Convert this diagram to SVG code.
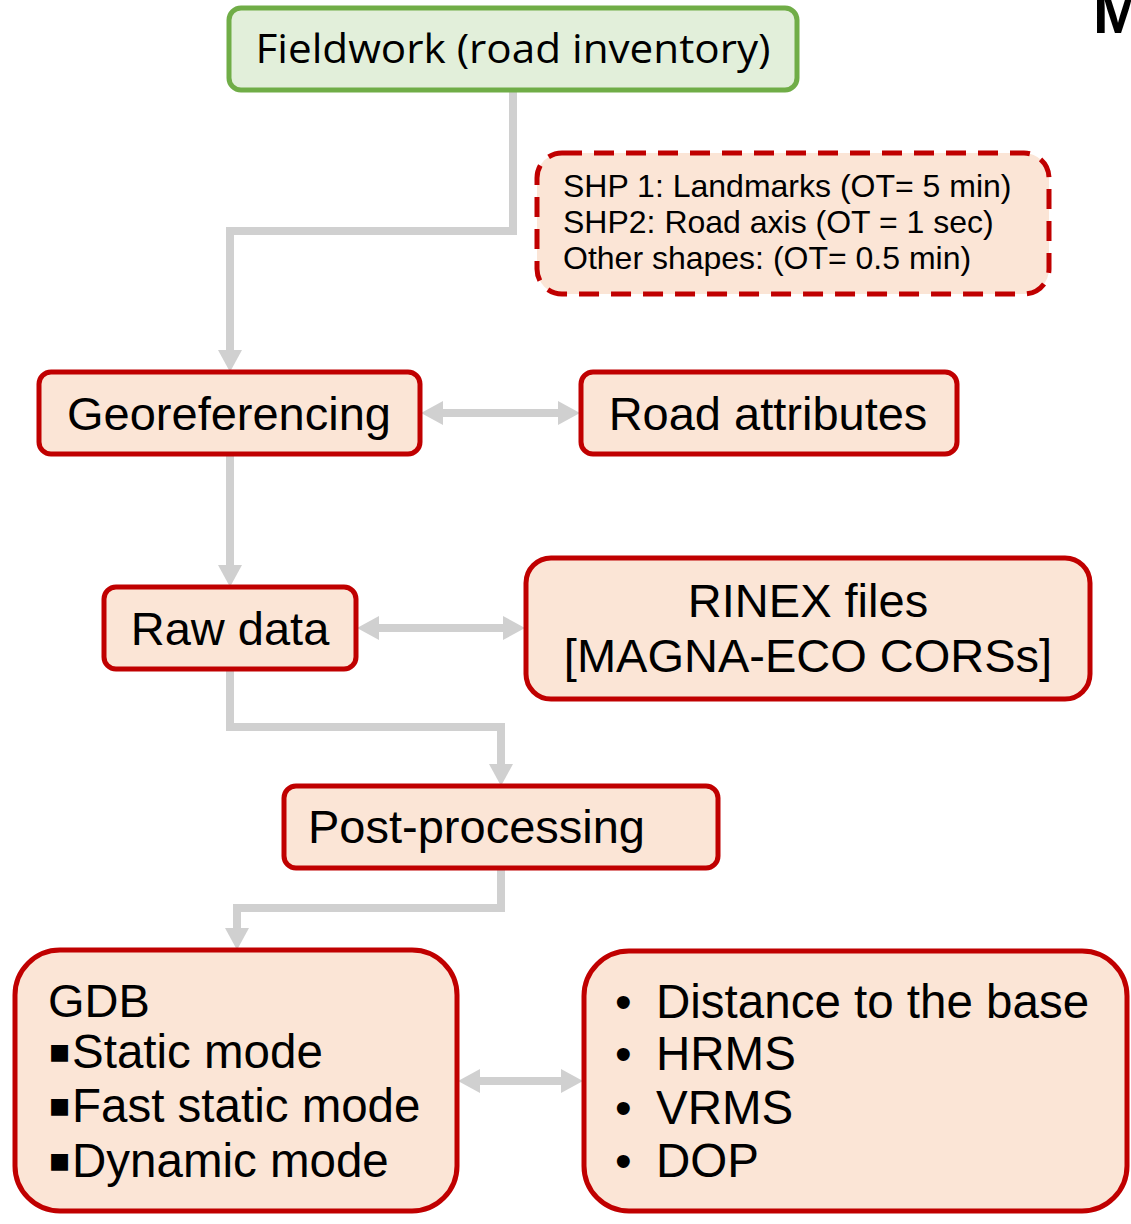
<svg xmlns="http://www.w3.org/2000/svg" width="1131" height="1224" viewBox="0 0 1131 1224">
<style>
.box{fill:#FBE5D6;stroke:#C00000;stroke-width:5}
.t{font-family:"Liberation Sans",Arial,sans-serif;fill:#000}
.big{font-size:47px}
.mid{font-size:47.5px}
.small{font-size:32px}
.sq{font-family:"DejaVu Sans",sans-serif;font-size:34px}
.conn{fill:none;stroke:#D0D0D0;stroke-width:8}
</style>
<defs>
<marker id="ah" markerUnits="userSpaceOnUse" markerWidth="24" markerHeight="24" viewBox="0 0 22 24" refX="0" refY="12" orient="auto-start-reverse">
<path d="M0,0 L22,12 L0,24 z" fill="#D0D0D0"/>
</marker>
</defs>
<text class="t" x="1093" y="33" font-size="60" font-weight="bold">M</text>
<g id="connectors">
<path class="conn" d="M513,90 V231 H230 V350" marker-end="url(#ah)"/>
<path class="conn" d="M443,413 H558" marker-start="url(#ah)" marker-end="url(#ah)"/>
<path class="conn" d="M230,454 V565" marker-end="url(#ah)"/>
<path class="conn" d="M379,628 H503" marker-start="url(#ah)" marker-end="url(#ah)"/>
<path class="conn" d="M230,669 V727 H501 V764" marker-end="url(#ah)"/>
<path class="conn" d="M501,868 V908 H237 V928" marker-end="url(#ah)"/>
<path class="conn" d="M480,1081 H561" marker-start="url(#ah)" marker-end="url(#ah)"/>
</g>
<g id="fieldwork">
<rect x="229" y="8" width="568" height="82" rx="12" fill="#E2EFDA" stroke="#70AD47" stroke-width="5"/>
<text class="t" x="513" y="63" text-anchor="middle" style="font-family:'Open Sans','Noto Sans',sans-serif" font-size="40" textLength="515" lengthAdjust="spacingAndGlyphs">Fieldwork (road inventory)</text>
</g>
<g id="shapes-note">
<rect x="537" y="153" width="512" height="141" rx="25" fill="#FBE5D6" stroke="#C00000" stroke-width="5" stroke-dasharray="20 12"/>
<text class="t small" x="563" y="197">SHP 1: Landmarks (OT= 5 min)</text>
<text class="t small" x="563" y="233">SHP2: Road axis (OT = 1 sec)</text>
<text class="t small" x="563" y="269">Other shapes: (OT= 0.5 min)</text>
</g>
<g id="georeferencing">
<rect class="box" x="39" y="372" width="381" height="82" rx="12"/>
<text class="t big" x="229" y="430" text-anchor="middle">Georeferencing</text>
</g>
<g id="road-attributes">
<rect class="box" x="581" y="372" width="376" height="82" rx="12"/>
<text class="t big" x="768" y="430" text-anchor="middle">Road attributes</text>
</g>
<g id="raw-data">
<rect class="box" x="104" y="587" width="252" height="82" rx="12"/>
<text class="t big" x="230" y="645" text-anchor="middle">Raw data</text>
</g>
<g id="rinex">
<rect class="box" x="526" y="558" width="564" height="141" rx="25"/>
<text class="t big" x="808" y="617" text-anchor="middle">RINEX files</text>
<text class="t big" x="808" y="672" text-anchor="middle">[MAGNA-ECO CORSs]</text>
</g>
<g id="post-processing">
<rect class="box" x="284" y="786" width="434" height="82" rx="12"/>
<text class="t big" x="308" y="843">Post-processing</text>
</g>
<g id="gdb">
<rect class="box" x="15" y="950" width="442" height="261" rx="45"/>
<text class="t big" x="48" y="1017">GDB</text>
<text class="t sq" x="48" y="1062">▪</text><text class="t mid" x="72" y="1068">Static mode</text>
<text class="t sq" x="48" y="1116">▪</text><text class="t mid" x="72" y="1122">Fast static mode</text>
<text class="t sq" x="48" y="1171">▪</text><text class="t mid" x="72" y="1177">Dynamic mode</text>
</g>
<g id="metrics">
<rect class="box" x="584" y="951" width="543" height="260" rx="45"/>
<text class="t mid" x="615" y="1018">•</text><text class="t mid" x="656" y="1018">Distance to the base</text>
<text class="t mid" x="615" y="1070">•</text><text class="t mid" x="656" y="1070">HRMS</text>
<text class="t mid" x="615" y="1124">•</text><text class="t mid" x="656" y="1124">VRMS</text>
<text class="t mid" x="615" y="1177">•</text><text class="t mid" x="656" y="1177">DOP</text>
</g>
</svg>
